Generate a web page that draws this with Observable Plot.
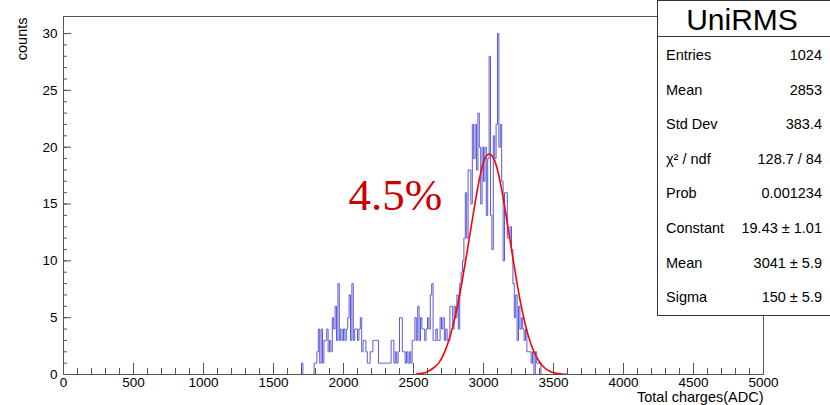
<!DOCTYPE html>
<html><head><meta charset="utf-8">
<script src="https://cdn.jsdelivr.net/npm/d3@7"></script>
<script src="https://cdn.jsdelivr.net/npm/@observablehq/plot@0.6"></script>
<style>body{margin:0;background:#fff;} #chart{width:830px;height:405px;}</style>
</head><body><div id="chart"></div>
<script>
// ---- data ----
const binStart = 1700;
const binWidth = 10;
const counts = [
  1,0,0,0,0,0,0,0,0,1,
  1,2,4,1,4,1,3,3,4,2,
  3,2,5,4,6,3,8,3,4,3,
  4,3,4,5,7,3,8,3,4,4,
  3,4,5,2,3,3,2,1,1,2,
  2,3,3,3,3,1,1,1,1,1,
  1,1,1,1,3,3,1,2,1,2,
  5,5,2,2,1,2,1,2,1,3,
  3,5,3,6,3,5,4,4,3,4,
  5,4,7,8,3,3,4,3,3,5,
  4,5,3,4,3,3,6,6,4,6,
  5,7,4,8,9,10,12,16,12,18,
  18,15,22,19,22,18,23,20,15,20,
  17,20,14,19,28,14,11,21,19,22,
  30,20,22,17,10,16,16,12,12,13,
  11,8,5,7,3,6,4,5,4,3,
  4,2,2,2,1,2,0,2,1,1,
  1
];
const fitX = [2520,2560,2600,2640,2680,2720,2760,2800,2840,2880,2920,2960,3000,3040,3080,3120,3160,3200,3240,3280,3320,3360,3400,3440,3480,3520,3560,3590];
const fitY = [0.05,0.1,0.25,0.55,1.0,1.9,3.3,5.2,7.7,10.6,13.6,16.5,18.7,19.4,18.8,16.9,14.1,11.0,8.0,5.4,3.4,2.0,1.1,0.55,0.25,0.1,0.05,0.02];
const xMajorTicks = [0,500,1000,1500,2000,2500,3000,3500,4000,4500,5000];
const yMajorTicks = [0,5,10,15,20,25,30];
const xTitle = "Total charges(ADC)";
const yTitle = "counts";
const statsTitle = "UniRMS";
const statsLabels = ["Entries","Mean","Std Dev","χ² / ndf","Prob","Constant","Mean","Sigma"];
const statsValues = ["1024","2853","383.4","128.7 / 84","0.001234","19.43 ± 1.01","3041 ± 5.9","150 ± 5.9"];
const annotation = {text: "4.5%", x: 2371, y: 15.75};

// ---- build ----
const W = 830, H = 405, mL = 63, mR = 67, mT = 16, mB = 31;
const fw = W - mL - mR, fh = H - mT - mB;
const xMinor = d3.range(0, 5001, 100);
const yMinor = d3.range(0, 31, 1);

const bins = counts.map((c, i) => ({x: binStart + i * binWidth, y: c}));
const end = binStart + counts.length * binWidth;
const step = [{x: binStart, y: 0}, ...bins, {x: end, y: counts[counts.length - 1]}, {x: end, y: 0}];
const fit = fitX.map((x, i) => ({x, y: fitY[i]}));
const axisColor = "#555";
const fmt = d3.format("d");

const plot = Plot.plot({
  width: W, height: H,
  marginLeft: mL, marginRight: mR, marginTop: mT, marginBottom: mB,
  style: {fontFamily: "'Liberation Sans', Arial, sans-serif", fontSize: "13.5px", background: "white", color: "black", overflow: "visible"},
  x: {domain: [0, 5000]},
  y: {domain: [0, 31.5]},
  marks: [
    Plot.line(step, {x: "x", y: "y", curve: "step-after", stroke: "#5a5ad8", strokeWidth: 1}),
    Plot.line(fit, {x: "x", y: "y", curve: "natural", stroke: "#ff0000", strokeWidth: 1.6}),
    Plot.text([annotation], {x: "x", y: "y", text: "text", fontFamily: "'Liberation Serif', 'Times New Roman', serif", fontSize: 45, fill: "#cc0000", lineAnchor: "middle", textAnchor: "middle"}),
    Plot.ruleX(xMinor, {x: d => d, insetTop: fh - 6, stroke: axisColor}),
    Plot.ruleX(xMajorTicks, {x: d => d, insetTop: fh - 11, stroke: axisColor}),
    Plot.ruleY(yMinor, {y: d => d, insetRight: fw - 4, stroke: axisColor}),
    Plot.ruleY(yMajorTicks, {y: d => d, insetRight: fw - 8, stroke: axisColor}),
    Plot.axisX(xMajorTicks, {tickSize: 0, tickPadding: 3, label: null, fontSize: 13.5, tickFormat: fmt}),
    Plot.axisY(yMajorTicks, {tickSize: 0, tickPadding: 6, label: null, fontSize: 13.5, tickFormat: fmt}),
    Plot.frame({stroke: axisColor}),
    Plot.text([xTitle], {frameAnchor: "bottom-right", textAnchor: "end", lineAnchor: "bottom", dy: 27, fontSize: 14.5}),
    Plot.text([yTitle], {frameAnchor: "top-left", rotate: -90, textAnchor: "end", lineAnchor: "middle", dx: -41, dy: 1, fontSize: 14.5})
  ]
});

// stats box
const svg = d3.select(plot);
const g = svg.append("g").attr("font-family", "'Liberation Sans', Arial, sans-serif").attr("fill", "black").attr("text-anchor", "start");
g.append("rect").attr("x", 657.5).attr("y", 0.5).attr("width", 190).attr("height", 315).attr("fill", "white").attr("stroke", "#333");
g.append("line").attr("x1", 657.5).attr("x2", 830).attr("y1", 36.5).attr("y2", 36.5).attr("stroke", "#333");
g.append("text").attr("x", 742).attr("y", 30).attr("text-anchor", "middle").attr("font-size", 30).text(statsTitle);
statsLabels.forEach((lab, i) => {
  const yy = 60 + i * 34.6;
  g.append("text").attr("x", 666).attr("y", yy).attr("font-size", 14.5).attr("text-anchor", "start").text(lab);
  g.append("text").attr("x", 822).attr("y", yy).attr("font-size", 14.5).attr("text-anchor", "end").text(statsValues[i]);
});

document.getElementById("chart").appendChild(plot);
</script>
</body></html>
